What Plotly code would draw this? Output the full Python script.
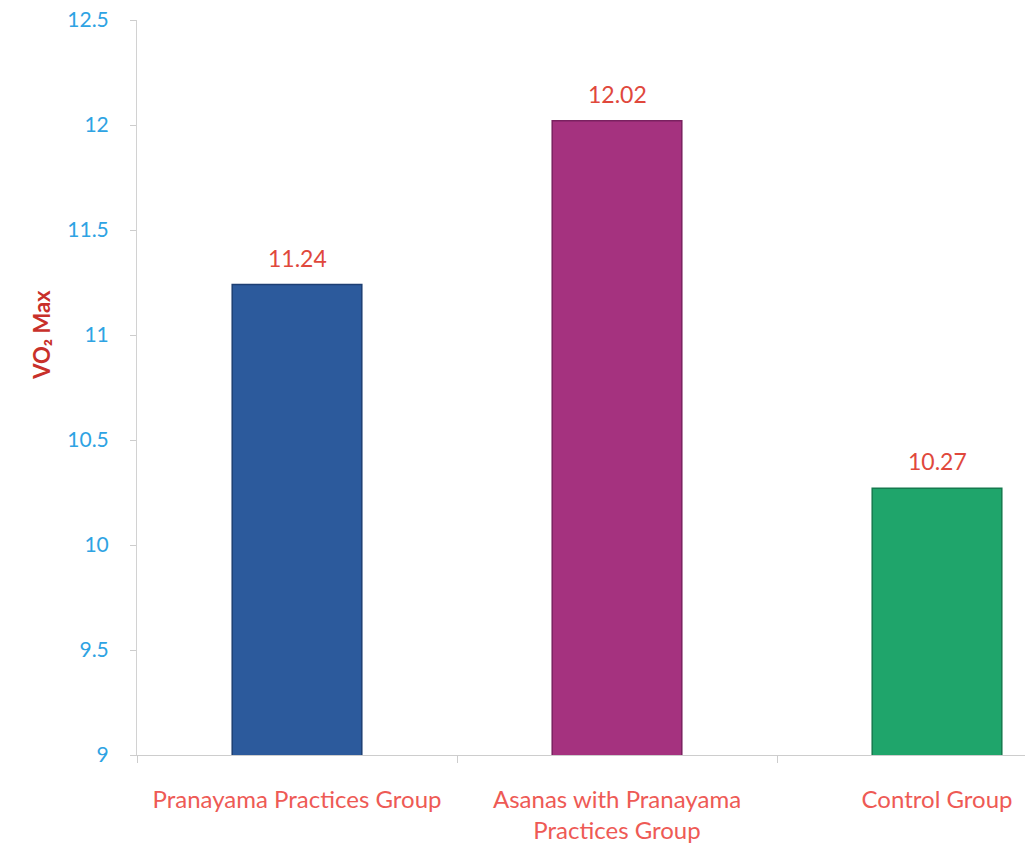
import plotly.graph_objects as go

groups = ["Pranayama Practices Group", "Asanas with Pranayama<br>Practices Group", "Control Group"]
vo2_max = [11.24, 12.02, 10.27]
bar_colors = ["#2c5a9c", "#a5327f", "#1fa56b"]
edge_colors = ["#1d3f73", "#7a2160", "#157a4e"]
y_ticks = [9, 9.5, 10, 10.5, 11, 11.5, 12, 12.5]
y_tick_text = ["9", "9.5", "10", "10.5", "11", "11.5", "12", "12.5"]

FONT = "Lato, 'Open Sans', sans-serif"

fig = go.Figure()
fig.add_trace(go.Bar(
    x=groups,
    y=vo2_max,
    base=0,
    width=0.405,
    marker=dict(color=bar_colors, line=dict(color=edge_colors, width=1.5)),
    hoverinfo="x+y",
))

for g, v in zip(groups, vo2_max):
    fig.add_annotation(
        x=g, y=v, text=f"{v:.2f}", showarrow=False,
        yanchor="bottom", yshift=11,
        font=dict(family=FONT, size=23, color="#e0483c"),
    )

fig.add_annotation(
    xref="paper", yref="paper", x=-0.125, y=0.571,
    text="VO₂ Max", textangle=-90, showarrow=False,
    font=dict(family=FONT, size=22, color="#c8302a", weight="bold"),
)

fig.update_layout(
    width=1025, height=849,
    margin=dict(l=137, r=0, t=20, b=94),
    paper_bgcolor="white", plot_bgcolor="white",
    showlegend=False,
    bargap=0.6,
    xaxis=dict(
        range=[-0.5, 2.275],
        showline=True, linecolor="#cdcdcd", linewidth=1,
        ticks="outside", tickson="boundaries", ticklen=7, tickcolor="#cdcdcd",
        ticklabelstandoff=23,
        tickfont=dict(family=FONT, size=24, color="#ee5a55"),
        showgrid=False, zeroline=False,
    ),
    yaxis=dict(
        range=[9, 12.5],
        tickvals=y_ticks, ticktext=y_tick_text,
        showline=True, linecolor="#d2d2d2", linewidth=1,
        ticks="outside", ticklen=6, tickcolor="#cdcdcd",
        ticklabelstandoff=17,
        tickfont=dict(family=FONT, size=21, color="#2ea3e3"),
        showgrid=False, zeroline=False,
    ),
)

fig.write_html("out.html")
